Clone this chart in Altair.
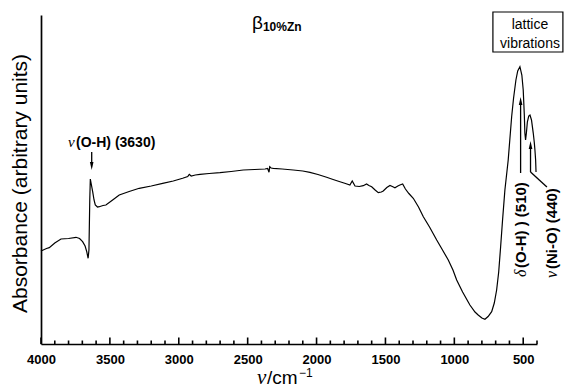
import altair as alt
import pandas as pd

# ---------------- data ----------------
wavenumber = [4000, 3960, 3940, 3900, 3855, 3800, 3746, 3720, 3698, 3680, 3668, 3658,
              3652, 3646, 3642, 3634, 3625, 3615, 3606, 3590, 3577, 3550, 3529, 3480,
              3432, 3360, 3287, 3200, 3117, 3040, 2972, 2935, 2924, 2910, 2880, 2846,
              2780, 2701, 2620, 2532, 2450, 2374, 2355, 2345, 2340, 2330, 2314, 2250,
              2169, 2100, 2048, 1990, 1927, 1880, 1830, 1790, 1758, 1741, 1721, 1690,
              1661, 1637, 1620, 1600, 1575, 1552, 1530, 1516, 1490, 1467, 1450, 1431,
              1410, 1395, 1375, 1355, 1330, 1298, 1260, 1225, 1180, 1128, 1090, 1044,
              1010, 983, 940, 887, 850, 827, 800, 778, 755, 729, 710, 693, 678, 664,
              650, 633, 609, 584, 570, 553, 540, 524, 510, 500, 492, 488, 483, 477,
              470, 460, 451, 440, 427, 420, 415, 410, 407]
absorbance = [0.93, 0.955, 0.963, 1.01, 1.05, 1.055, 1.067, 1.055, 1.023, 0.98, 0.923, 0.857,
              0.94, 1.44, 1.65, 1.59, 1.523, 1.44, 1.39, 1.37, 1.373, 1.385, 1.39, 1.44,
              1.49, 1.525, 1.557, 1.58, 1.607, 1.63, 1.657, 1.675, 1.697, 1.68, 1.69, 1.697,
              1.705, 1.713, 1.725, 1.74, 1.745, 1.75, 1.755, 1.717, 1.773, 1.76, 1.757, 1.75,
              1.74, 1.73, 1.717, 1.695, 1.667, 1.645, 1.623, 1.605, 1.59, 1.63, 1.58, 1.575,
              1.583, 1.60, 1.585, 1.573, 1.54, 1.513, 1.52, 1.53, 1.565, 1.585, 1.575, 1.563,
              1.58, 1.59, 1.60, 1.55, 1.505, 1.457, 1.37, 1.273, 1.17, 1.04, 0.95, 0.84,
              0.74, 0.64, 0.52, 0.39, 0.32, 0.29, 0.26, 0.247, 0.275, 0.323, 0.41, 0.54, 0.72, 0.973,
              1.24, 1.54, 1.84, 2.273, 2.46, 2.64, 2.73, 2.773, 2.69, 2.54, 2.29, 2.11, 2.04, 2.11,
              2.22, 2.28, 2.29, 2.24, 2.107, 2.02, 1.94, 1.84, 1.72]

major_ticks = [500, 1000, 1500, 2000, 2500, 3000, 3500, 4000]
minor_ticks = [v for v in range(400, 4001, 100) if v % 500 != 0]

SANS = "Liberation Sans"
SERIF = "Liberation Serif"

x_scale = alt.Scale(domain=[400, 4000], reverse=True, nice=False, zero=False)
y_scale = alt.Scale(domain=[0, 3.29], nice=False, zero=False)

x_axis = alt.Axis(values=major_ticks, format="d", title=None, ticks=False, grid=False,
                  labelFont=SANS, labelFontSize=13, labelFontWeight="bold",
                  labelColor="black", labelPadding=9, labelFlush=False,
                  domainColor="black", domainWidth=1.7)
y_axis = alt.Axis(title="Absorbance (arbitrary units)", labels=False, ticks=False,
                  grid=False, domainColor="black", domainWidth=1.7,
                  titleFont=SANS, titleFontSize=21, titleFontWeight="normal",
                  titleColor="black", titleAngle=270, titleX=-21, titleY=168,
                  titleAlign="center", titleBaseline="middle")


def X(field="x"):
    return alt.X(f"{field}:Q", scale=x_scale, axis=x_axis)


def Y(field="y"):
    return alt.Y(f"{field}:Q", scale=y_scale, axis=y_axis)


def txt(x, y, text, **kw):
    df = pd.DataFrame({"x": [x], "y": [y], "t": [text]})
    return alt.Chart(df).mark_text(color="black", **kw).encode(x=X(), y=Y(), text="t:N")


def seg(x1, y1, x2, y2, width=1.3, color="black"):
    df = pd.DataFrame({"x": [x1], "y": [y1], "x2": [x2], "y2": [y2]})
    return alt.Chart(df).mark_rule(color=color, strokeWidth=width).encode(
        x=X(), y=Y(), x2="x2:Q", y2="y2:Q")


UP = "M0,-1L0.45,1L-0.45,1Z"
DOWN = "M0,1L0.45,-1L-0.45,-1Z"


def head(x, y, shape):
    df = pd.DataFrame({"x": [x], "y": [y]})
    return alt.Chart(df).mark_point(shape=shape, filled=True, color="black",
                                    size=64, opacity=1, strokeWidth=0).encode(x=X(), y=Y())


spec_df = pd.DataFrame({"x": wavenumber, "y": absorbance})
spectrum = alt.Chart(spec_df).mark_line(color="black", strokeWidth=1.2).encode(x=X(), y=Y())

# inward ticks: major every 500, minor every 100
tick_layers = [seg(v, 0.0, v, 0.065, 1.6) for v in major_ticks] + \
              [seg(v, 0.0, v, 0.035, 1.6) for v in minor_ticks]

box_df = pd.DataFrame({"x": [720], "x2": [212], "y": [2.92], "y2": [3.32]})
box = alt.Chart(box_df).mark_rect(fill="white", stroke="black", strokeWidth=1.2).encode(
    x=X(), x2="x2:Q", y=Y(), y2="y2:Q")

layers = [
    spectrum, *tick_layers,
    # title beta_10%Zn
    txt(2469, 3.15, "β", font=SANS, fontSize=19, align="left", baseline="alphabetic"),
    txt(2469, 3.13, "10%Zn", font=SANS, fontSize=12, fontWeight="bold", align="left",
        baseline="alphabetic", dx=11),
    # lattice vibrations box
    box,
    txt(451, 3.19, "lattice", font=SANS, fontSize=14, align="center", baseline="middle"),
    txt(451, 3.00, "vibrations", font=SANS, fontSize=14, align="center", baseline="middle"),
    # nu(O-H) annotation
    txt(3804, 1.97, "ν", font=SERIF, fontSize=15, fontStyle="italic", align="left",
        baseline="alphabetic"),
    txt(3804, 1.97, "(O-H) (3630)", font=SANS, fontSize=14, fontWeight="bold", align="left",
        baseline="alphabetic", dx=8),
    seg(3632, 1.92, 3632, 1.80),
    head(3632, 1.78, DOWN),
    # delta(O-H) annotation
    seg(519, 1.71, 519, 2.40),
    head(519, 2.43, UP),
    txt(517, 0.67, "δ", font=SERIF, fontSize=16, fontStyle="italic", angle=270,
        align="left", baseline="middle"),
    txt(517, 0.67, "(O-H) ) (510)", font=SANS, fontSize=15, fontWeight="bold", angle=270,
        align="left", baseline="middle", dx=9),
    # nu(Ni-O) annotation
    seg(447, 1.72, 447, 1.97),
    head(447, 1.99, UP),
    seg(447, 1.72, 328, 1.57),
    txt(292, 0.66, "ν", font=SERIF, fontSize=16, fontStyle="italic", angle=270,
        align="left", baseline="middle"),
    txt(292, 0.66, "(Ni-O) (440)", font=SANS, fontSize=15, fontWeight="bold", angle=270,
        align="left", baseline="middle", dx=9),
    # x title nu/cm^-1
    txt(2433, -0.40, "ν", font=SERIF, fontSize=21, fontStyle="italic", align="left",
        baseline="alphabetic"),
    txt(2433, -0.40, "/cm", font=SANS, fontSize=19, align="left", baseline="alphabetic", dx=10),
    txt(2433, -0.33, "−1", font=SANS, fontSize=12, align="left", baseline="alphabetic", dx=42),
]

chart = alt.layer(*layers).properties(
    width=496, height=329,
    autosize=alt.AutoSizeParams(type="none"),
    padding={"left": 41, "top": 15, "right": 30, "bottom": 44},
    background="white",
).configure_view(stroke=None)

chart.save("out.html", embed_options={"renderer": "svg", "actions": False})
